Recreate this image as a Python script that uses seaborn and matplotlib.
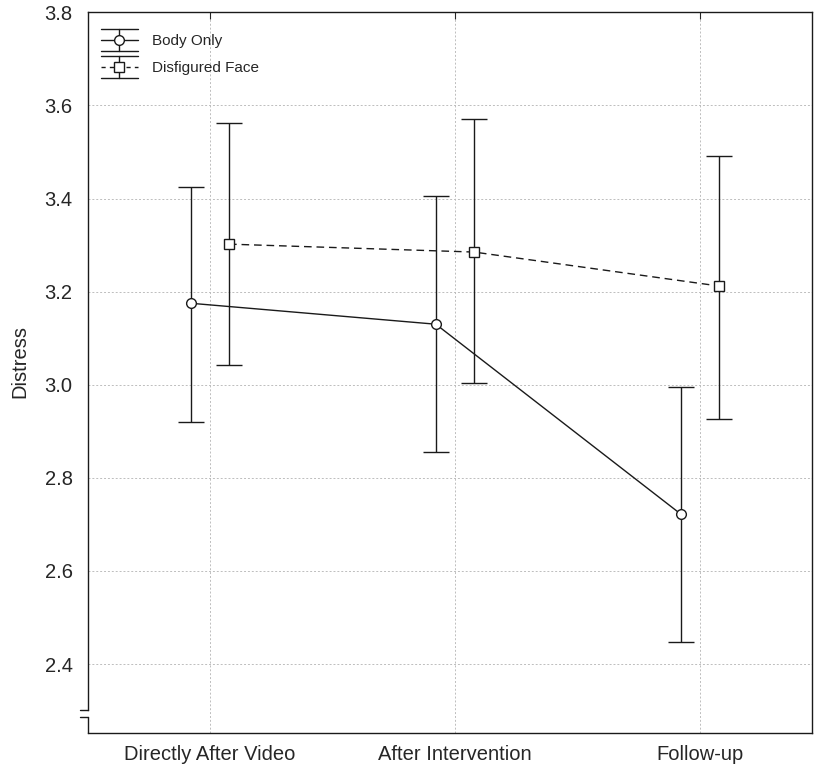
import numpy as np
import pandas as pd
import seaborn as sns
import matplotlib.pyplot as plt
from matplotlib.lines import Line2D
from matplotlib.legend_handler import HandlerBase

# ---- data ----
times = ['Directly After Video', 'After Intervention', 'Follow-up']
groups = ['Body Only', 'Disfigured Face']
body_mean = [3.175, 3.130, 2.722]
body_low = [2.920, 2.855, 2.448]
body_high = [3.425, 3.405, 2.995]
face_mean = [3.302, 3.285, 3.212]
face_low = [3.042, 3.003, 2.927]
face_high = [3.562, 3.570, 3.492]

sns.set_style('white')
plt.rcParams['font.family'] = ['Liberation Sans', 'DejaVu Sans']

ink = '#1a1a1a'
dash = (5.5, 3.5)

df = pd.DataFrame({
    'pos': list(range(3)) * 2,
    'group': [groups[0]] * 3 + [groups[1]] * 3,
    'mean': body_mean + face_mean,
    'low': body_low + face_low,
    'high': body_high + face_high,
})
shift = {groups[0]: -0.078, groups[1]: 0.078}
df['x'] = df['pos'] + df['group'].map(shift)


# legend key in the Statistica style: line + marker with a capped whisker
class WhiskerKey(HandlerBase):
    def __init__(self, ls, marker):
        super().__init__()
        self.ls = ls
        self.marker = marker

    def create_artists(self, legend, orig_handle, xdescent, ydescent,
                       width, height, fontsize, trans):
        cy = height / 2 - ydescent
        h = 0.72 * fontsize
        x0, x1 = -xdescent, width - xdescent
        xm = (x0 + x1) / 2
        arts = [
            Line2D([x0, x1], [cy, cy], color=ink, lw=1, ls=self.ls),
            Line2D([xm, xm], [cy - h, cy + h], color=ink, lw=1),
            Line2D([x0, x1], [cy + h, cy + h], color=ink, lw=1),
            Line2D([x0, x1], [cy - h, cy - h], color=ink, lw=1),
            Line2D([xm], [cy], marker=self.marker, markersize=7,
                   markerfacecolor='white', markeredgecolor=ink, ls='none'),
        ]
        for a in arts:
            a.set_transform(trans)
        return arts


fig = plt.figure(figsize=(8.14, 7.68), dpi=100)
ax = fig.add_axes([0.108, 0.0456, 0.8895, 0.9384])

sns.lineplot(data=df, x='x', y='mean', style='group', hue='group',
             palette=[ink, ink], dashes={groups[0]: '', groups[1]: dash},
             markers={groups[0]: 'o', groups[1]: 's'}, markersize=7,
             markerfacecolor='white', markeredgecolor=ink, markeredgewidth=1,
             linewidth=1, legend=False, ax=ax, zorder=3)

for g in groups:
    sub = df[df['group'] == g]
    ax.errorbar(sub['x'], sub['mean'],
                yerr=[sub['mean'] - sub['low'], sub['high'] - sub['mean']],
                fmt='none', ecolor=ink, elinewidth=1, capsize=9.3, capthick=1, zorder=2)

ax.set_xlim(-0.498, 2.457)
ax.set_ylim(2.252, 3.8)
ax.set_xticks(range(3))
ax.set_xticklabels(times, fontsize=14.5)
ax.set_yticks(np.arange(2.4, 3.81, 0.2))
ax.set_yticklabels(['%.1f' % v for v in np.arange(2.4, 3.81, 0.2)], fontsize=14.5)
ax.set_xlabel('')
ax.set_ylabel('Distress', fontsize=14.5)
ax.yaxis.set_label_coords(-0.081, 0.516)

ax.grid(True, color='#bdbdbd', linestyle=(0, (2, 2)), linewidth=0.7)
ax.set_axisbelow(True)
ax.tick_params(axis='x', direction='in', top=True, length=5, pad=9)
ax.tick_params(axis='y', direction='out', length=5, pad=6)
for s in ax.spines.values():
    s.set_color(ink)
    s.set_linewidth(1)

# axis break near the bottom of the y axis
ax.spines['left'].set_bounds(2.302, 3.8)
ax.plot([-0.498, -0.498], [2.252, 2.287], color=ink, lw=1, clip_on=False)
ax.plot([-0.532, -0.498], [2.302, 2.302], color=ink, lw=1, clip_on=False)
ax.plot([-0.532, -0.498], [2.287, 2.287], color=ink, lw=1, clip_on=False)

handles = [Line2D([], []), Line2D([], [])]
ax.legend(handles, groups, loc='upper left', bbox_to_anchor=(0, 0.9875),
          frameon=False, fontsize=11,
          handlelength=2.42, handletextpad=0.92, labelspacing=0.83,
          borderaxespad=0.4, borderpad=0.45,
          handler_map={handles[0]: WhiskerKey('-', 'o'),
                       handles[1]: WhiskerKey((0, (3, 3)), 's')})

fig.savefig('out.png', dpi=100)
